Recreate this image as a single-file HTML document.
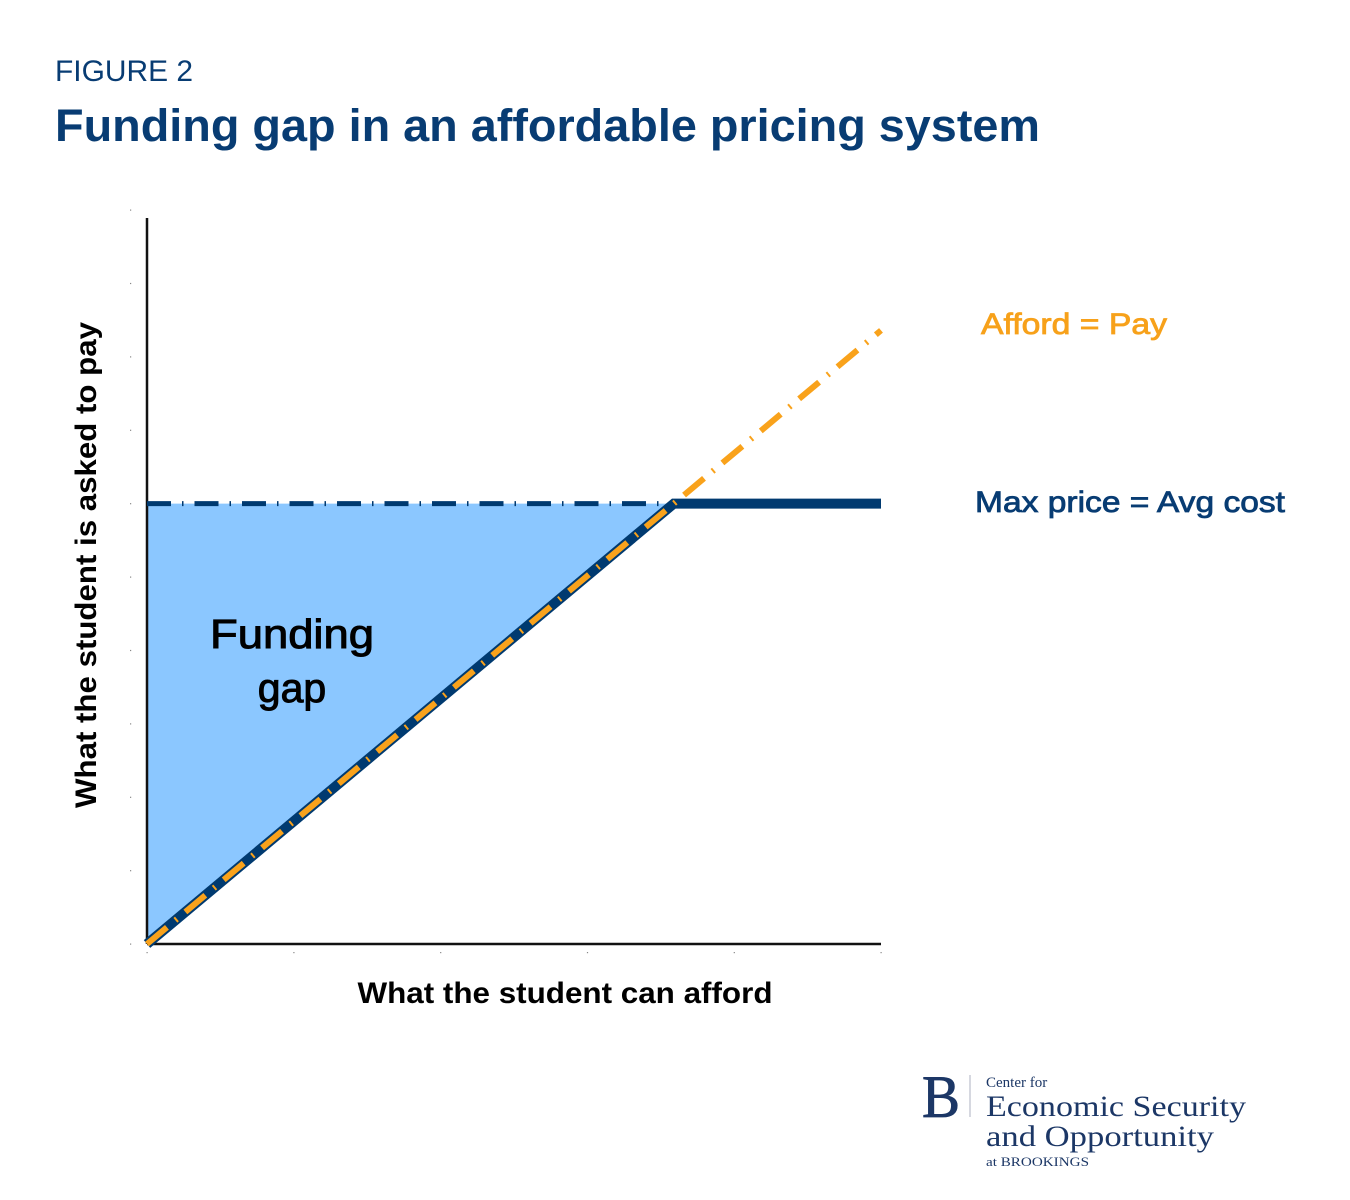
<!DOCTYPE html>
<html><head><meta charset="utf-8"><style>
html,body{margin:0;padding:0;background:#fff;}
svg{display:block;}
</style></head><body>
<svg id="chart" width="1350" height="1200" viewBox="0 0 1350 1200" xmlns="http://www.w3.org/2000/svg">
<text x="55" y="81" font-family="Liberation Sans, sans-serif" font-size="30" fill="#083c73" textLength="138" lengthAdjust="spacingAndGlyphs">FIGURE 2</text>
<text x="55" y="141" font-family="Liberation Sans, sans-serif" font-size="45" font-weight="bold" fill="#083c73" textLength="985" lengthAdjust="spacingAndGlyphs">Funding gap in an affordable pricing system</text>
<g id="plot"></g>
<text x="565" y="1003" text-anchor="middle" font-family="Liberation Sans, sans-serif" font-size="30" font-weight="bold" fill="#000" textLength="415" lengthAdjust="spacingAndGlyphs">What the student can afford</text>
<text transform="translate(96,565) rotate(-90)" text-anchor="middle" font-family="Liberation Sans, sans-serif" font-size="30" font-weight="bold" fill="#000" textLength="486" lengthAdjust="spacingAndGlyphs">What the student is asked to pay</text>
<text x="292" y="648" text-anchor="middle" font-family="Liberation Sans, sans-serif" font-size="41" fill="#000" stroke="#000" stroke-width="1" textLength="164" lengthAdjust="spacingAndGlyphs">Funding</text>
<text x="292" y="702" text-anchor="middle" font-family="Liberation Sans, sans-serif" font-size="41" fill="#000" stroke="#000" stroke-width="1">gap</text>
<text x="981" y="334" font-family="Liberation Sans, sans-serif" font-size="30" fill="#f7a11a" stroke="#f7a11a" stroke-width="0.8" textLength="186" lengthAdjust="spacingAndGlyphs">Afford = Pay</text>
<text x="975" y="512" font-family="Liberation Sans, sans-serif" font-size="30" fill="#083c73" stroke="#083c73" stroke-width="0.8" textLength="310" lengthAdjust="spacingAndGlyphs">Max price = Avg cost</text>
<g fill="#1c3766" font-family="Liberation Serif, serif">
<text x="922" y="1117" font-size="60" textLength="38" lengthAdjust="spacingAndGlyphs" stroke="#1c3766" stroke-width="0.8">B</text>
<line x1="970" y1="1075" x2="970" y2="1117" stroke="#c8cbd6" stroke-width="1.5"/>
<text x="986" y="1087" font-size="15">Center for</text>
<text x="986" y="1116" font-size="30" textLength="260" lengthAdjust="spacingAndGlyphs">Economic Security</text>
<text x="986" y="1146" font-size="30" textLength="228" lengthAdjust="spacingAndGlyphs">and Opportunity</text>
<text x="986" y="1166" font-size="13" textLength="103" lengthAdjust="spacingAndGlyphs">at BROOKINGS</text>
</g>
</svg>
<script>
const xTicks = [0, 1, 2, 3, 4, 5];
const yTicks = [0, 0.5, 1, 1.5, 2, 2.5, 3, 3.5, 4, 4.5, 5];
const affordX = [0, 5];
const affordY = [0, 4.18];
const maxPrice = [3.0];
const xMax = [5];

const NS = 'http://www.w3.org/2000/svg';
const g = document.getElementById('plot');
const X0 = 147, X1 = 881, Y0 = 944, Y1 = 210;
function sx(v){ return X0 + (X1 - X0) * v / 5; }
function sy(v){ return Y0 - (Y0 - Y1) * v / 5; }
function mk(tag, attrs){ const e = document.createElementNS(NS, tag); for (const k in attrs) e.setAttribute(k, attrs[k]); g.appendChild(e); return e; }

const slope = affordY[1] / affordX[1];
const kinkX = maxPrice[0] / slope;

const fill = mk('polygon', {points: `${sx(0)},${sy(0)} ${sx(0)},${sy(maxPrice[0])} ${sx(kinkX)},${sy(maxPrice[0])}`, fill: '#8bc7ff'});



yTicks.forEach(v => {
  const t = mk('rect', {x: 130, y: sy(v) - 0.5, width: 1.2, height: 1.2, fill: '#888'});
  
  
});
xTicks.forEach(v => {
  const t = mk('rect', {x: sx(v) - 0.5, y: 952, width: 1.2, height: 1.2, fill: '#888'});
  
  
});

const ya = mk('line', {x1: X0, y1: 218, x2: X0, y2: Y0, stroke: '#111', 'stroke-width': 2.5});


const xa = mk('line', {x1: X0, y1: Y0, x2: X1, y2: Y0, stroke: '#111', 'stroke-width': 2.5});



const md = mk('line', {x1: sx(0), y1: sy(maxPrice[0]), x2: sx(kinkX), y2: sy(maxPrice[0]), stroke: '#003a70', 'stroke-width': 5, 'stroke-dasharray': '24 11 1.5 11'});



const np = mk('polyline', {points: `${sx(0)},${sy(0)} ${sx(kinkX)},${sy(maxPrice[0])} ${sx(xMax[0])},${sy(maxPrice[0])}`, fill: 'none', stroke: '#003a70', 'stroke-width': 10, 'stroke-linejoin': 'miter'});



const ap = mk('line', {x1: sx(affordX[0]), y1: sy(affordY[0]), x2: sx(affordX[1]), y2: sy(affordY[1]), stroke: '#f9a21b', 'stroke-width': 6, 'stroke-dasharray': '26 11 2 11'});


</script>
</body></html>
